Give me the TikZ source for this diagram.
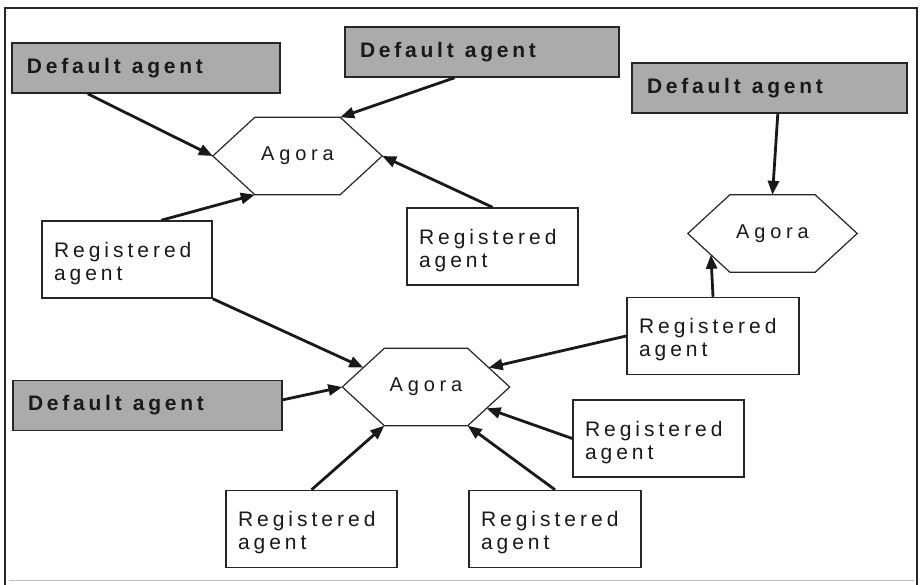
\documentclass[tikz,border=0pt]{standalone}
\usepackage{fontspec}
\setmainfont{Liberation Sans}
\newfontfamily\labelfont[LetterSpace=19]{Liberation Sans}
\newfontfamily\hexfont[LetterSpace=24]{Liberation Sans}
\newfontfamily\boldlabelfont[LetterSpace=18]{Liberation Sans Bold}
\usetikzlibrary{arrows.meta,calc}

% hexagon outline around a (text-only) node, with named corners
\newcommand\hexcorners[1]{%
  \coordinate (#1-tl) at ($(#1.north west)+(42,0)$);
  \coordinate (#1-tr) at ($(#1.north east)+(-42,0)$);
  \coordinate (#1-bl) at ($(#1.south west)+(42,0)$);
  \coordinate (#1-br) at ($(#1.south east)+(-42,0)$);
  \draw[hexline] (#1.west) -- (#1-tl) -- (#1-tr) -- (#1.east) -- (#1-br) -- (#1-bl) -- cycle;
}
\newcommand\defaultlabel{Default\hspace{4pt} agent}
\newcommand\reglabel{\rule{0pt}{23pt}Registered\\agent}

\begin{document}
\begin{tikzpicture}[x=1pt,y=-1pt,
  defaultbox/.style={draw=black!85, line width=1.6pt, fill=black!33,
    inner xsep=15pt, inner ysep=0pt, minimum height=50pt, align=left,
    text=black!90, font=\boldlabelfont\fontsize{21}{24}\selectfont},
  regbox/.style={draw=black!85, line width=1.5pt, fill=white,
    inner xsep=12pt, inner ysep=0pt, minimum height=77pt, align=left,
    text=black!90, font=\labelfont\fontsize{21}{23}\selectfont},
  hexlabel/.style={minimum width=169pt, minimum height=77pt, inner sep=0pt,
    text=black!90, font=\hexfont\fontsize{20}{24}\selectfont},
  hexline/.style={draw=black!85, line width=1.2pt},
  link/.style={line width=2.8pt, draw=black!90,
    -{Triangle[length=14pt,width=11pt]}}
]
\useasboundingbox (0,0) rectangle (920,585);

% outer frame
\draw[line width=2pt, black!85] (5,585) -- (5,8) -- (917,8) -- (917,585);
\draw[line width=1pt, black!25] (9,580) -- (914,580);

% default agents
\node[defaultbox, text width=238pt] (da1) at (146,68) {\defaultlabel};
\node[defaultbox, text width=244pt] (da2) at (482,52) {\defaultlabel};
\node[defaultbox, text width=245pt] (da3) at (769.5,88) {\defaultlabel};
\node[defaultbox, text width=239pt] (da4) at (147.5,405.5) {\defaultlabel};

% registered agents
\node[regbox, text width=146pt] (ra1) at (127,259.5) {\reglabel};
\node[regbox, text width=147pt] (ra2) at (492.5,246.5) {\reglabel};
\node[regbox, text width=148pt] (ra3) at (713,336) {\reglabel};
\node[regbox, text width=147pt] (ra4) at (658.5,438.5) {\reglabel};
\node[regbox, text width=147pt] (ra5) at (311.5,529) {\reglabel};
\node[regbox, text width=148pt] (ra6) at (555,529) {\reglabel};

% agoras
\node[hexlabel] (h1) at (297.5,156) {Agora};
\hexcorners{h1}
\node[hexlabel] (h2) at (772.5,233.5) {Agora};
\hexcorners{h2}
\node[hexlabel, minimum width=167pt] (h3) at (426,387) {Agora};
\hexcorners{h3}

% connections to the upper-left agora
\draw[link] ($(da1.south west)!0.284!(da1.south east)$) -- (h1.west);
\draw[link] ($(da2.south west)!0.40!(da2.south east)$) -- (h1-tr);
\draw[link] (ra2.north) -- (h1.east);
\draw[link] ($(ra1.north west)!0.70!(ra1.north east)$) -- (h1-bl);

% connections to the right agora
\draw[link] ($(da3.south west)!0.53!(da3.south east)$) -- (h2.north);
\draw[link] (ra3.north) -- ($(h2.west)!0.55!(h2-bl)$);

% connections to the lower agora
\draw[link] (ra1.south east) -- ($(h3.west)!0.5!(h3-tl)$);
\draw[link] ($(da4.north east)!0.39!(da4.south east)$) -- (h3.west);
\draw[link] (ra3.west) -- ($(h3-tr)!0.5!(h3.east)$);
\draw[link] (ra4.west) -- ($(h3.east)!0.55!(h3-br)$);
\draw[link] (ra6.north) -- (h3-br);
\draw[link] (ra5.north) -- (h3-bl);
\end{tikzpicture}
\end{document}
